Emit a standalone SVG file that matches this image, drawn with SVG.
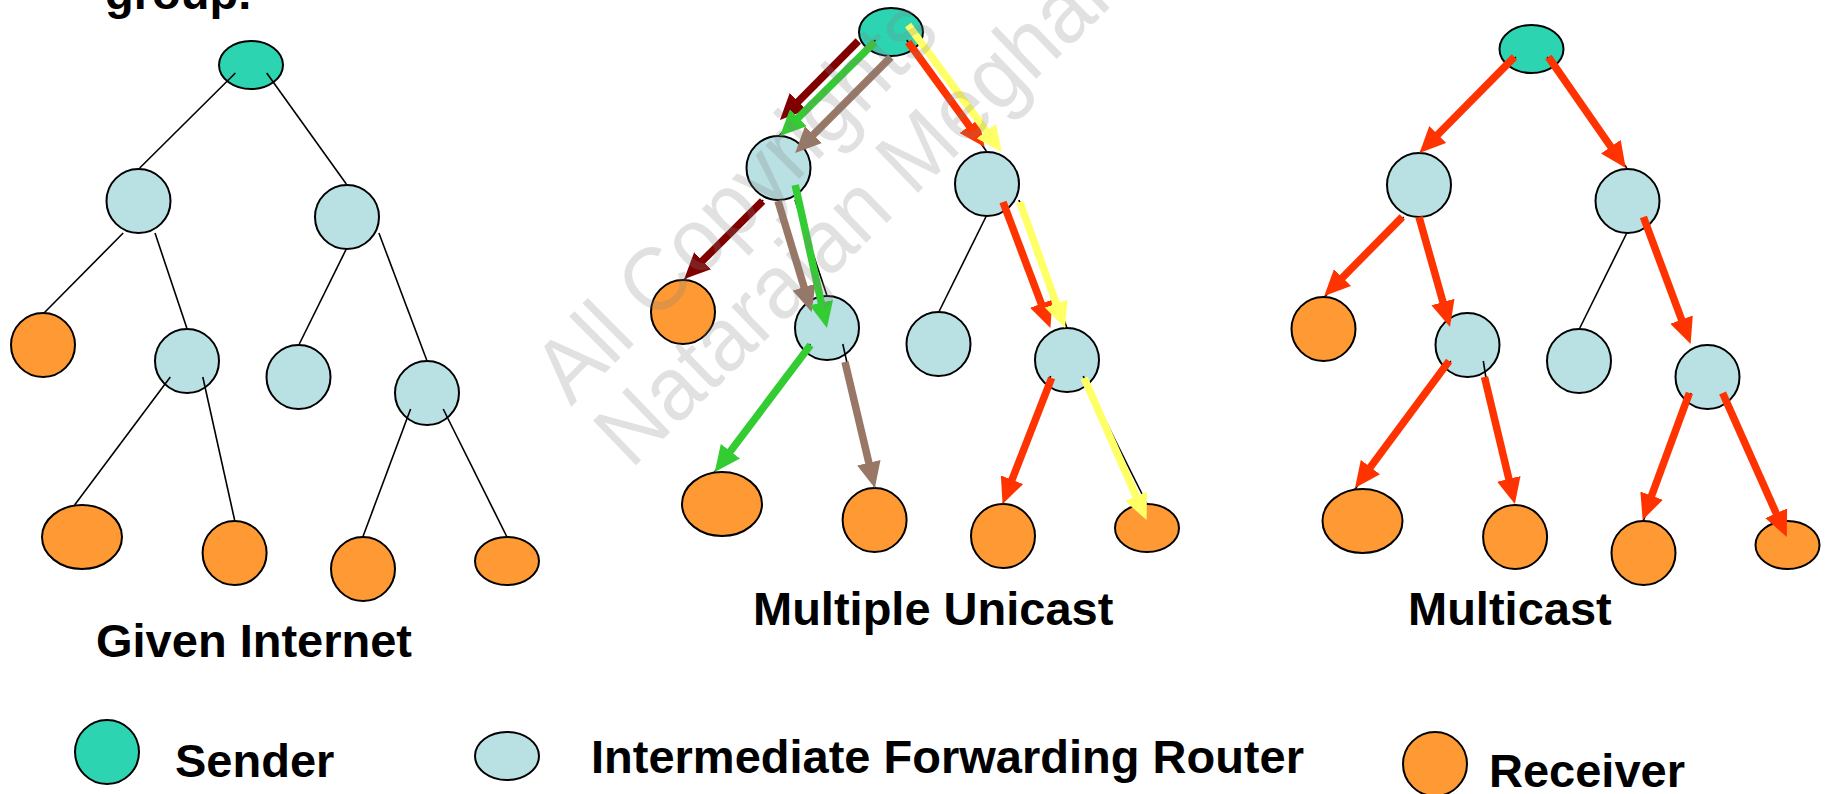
<svg xmlns="http://www.w3.org/2000/svg" width="1828" height="794" viewBox="0 0 1828 794">
<style>
.snd{fill:#2cd4b2;stroke:#000;stroke-width:2}
.rtr{fill:#b9e0e3;stroke:#000;stroke-width:2}
.rcv{fill:#ff9933;stroke:#000;stroke-width:2}
.ln{stroke:#000;stroke-width:1.6;fill:none}
.ar{stroke-width:7.5;fill:none}
.lbl{font-family:"Liberation Sans",Arial,sans-serif;font-weight:bold;font-size:47px;fill:#000}
.wm{font-family:"Liberation Sans",Arial,sans-serif;font-size:90px;fill:#808080;fill-opacity:0.24}
</style>
<defs>
<marker id="mDR" viewBox="0 0 26 24" refX="5" refY="12" markerWidth="26" markerHeight="24" markerUnits="userSpaceOnUse" orient="auto"><path d="M0,0 L26,12 L0,24 z" fill="#800000"/></marker>
<marker id="mGR" viewBox="0 0 26 24" refX="5" refY="12" markerWidth="26" markerHeight="24" markerUnits="userSpaceOnUse" orient="auto"><path d="M0,0 L26,12 L0,24 z" fill="#33cc33"/></marker>
<marker id="mBR" viewBox="0 0 26 24" refX="5" refY="12" markerWidth="26" markerHeight="24" markerUnits="userSpaceOnUse" orient="auto"><path d="M0,0 L26,12 L0,24 z" fill="#997766"/></marker>
<marker id="mRD" viewBox="0 0 26 24" refX="5" refY="12" markerWidth="26" markerHeight="24" markerUnits="userSpaceOnUse" orient="auto"><path d="M0,0 L26,12 L0,24 z" fill="#ff3300"/></marker>
<marker id="mYL" viewBox="0 0 26 24" refX="5" refY="12" markerWidth="26" markerHeight="24" markerUnits="userSpaceOnUse" orient="auto"><path d="M0,0 L26,12 L0,24 z" fill="#ffff66"/></marker>
<g id="tree-nodes">
<g id="n-S"><ellipse cx="251" cy="65" rx="32" ry="24" class="snd"/></g>
<g id="n-A"><ellipse cx="138.5" cy="201" rx="32" ry="32" class="rtr"/></g>
<g id="n-B"><ellipse cx="347" cy="217" rx="32" ry="32" class="rtr"/></g>
<g id="n-C"><ellipse cx="43" cy="345" rx="32" ry="32" class="rcv"/></g>
<g id="n-D"><ellipse cx="187" cy="361" rx="32" ry="32" class="rtr"/></g>
<g id="n-E"><ellipse cx="298.5" cy="377" rx="32" ry="32" class="rtr"/></g>
<g id="n-F"><ellipse cx="427" cy="393" rx="32" ry="32" class="rtr"/></g>
<g id="n-G"><ellipse cx="82" cy="537" rx="40" ry="32" class="rcv"/></g>
<g id="n-H"><ellipse cx="234.6" cy="553" rx="32" ry="32" class="rcv"/></g>
<g id="n-I"><ellipse cx="363" cy="569" rx="32" ry="32" class="rcv"/></g>
<g id="n-J"><ellipse cx="507" cy="561" rx="32" ry="24" class="rcv"/></g>
</g>
<g id="ln-SA"><line x1="235.4" y1="73" x2="139.7" y2="168" class="ln"/></g>
<g id="ln-SB"><line x1="266.7" y1="73" x2="346.3" y2="184" class="ln"/></g>
<g id="ln-AC"><line x1="123.2" y1="233" x2="44" y2="313" class="ln"/></g>
<g id="ln-AD"><line x1="155" y1="233" x2="186.8" y2="328" class="ln"/></g>
<g id="ln-BE"><line x1="346.3" y1="249" x2="299.3" y2="344" class="ln"/></g>
<g id="ln-BF"><line x1="378.9" y1="233" x2="426.7" y2="360" class="ln"/></g>
<g id="ln-DG"><line x1="170.3" y1="377" x2="74.6" y2="505" class="ln"/></g>
<g id="ln-DH"><line x1="202.8" y1="377" x2="234.6" y2="520" class="ln"/></g>
<g id="ln-FI"><line x1="410.6" y1="409" x2="362.8" y2="537" class="ln"/></g>
<g id="ln-FJ"><line x1="443.2" y1="409" x2="507" y2="537" class="ln"/></g>
</defs>

<g id="given-internet">
<use href="#tree-nodes"/>
<g id="given-connectors">
<use href="#ln-SA"/><use href="#ln-SB"/><use href="#ln-AC"/><use href="#ln-AD"/><use href="#ln-BE"/>
<use href="#ln-BF"/><use href="#ln-DG"/><use href="#ln-DH"/><use href="#ln-FI"/><use href="#ln-FJ"/>
</g>
<text class="lbl" x="96" y="657">Given Internet</text>
</g>

<g id="multiple-unicast">
<g transform="translate(640,-33)">
<use href="#tree-nodes"/>
<g id="unicast-connectors">
<use href="#ln-SA"/><use href="#ln-SB"/><use href="#ln-AC"/><use href="#ln-AD"/><use href="#ln-BE"/>
<use href="#ln-BF"/><use href="#ln-DG"/><use href="#ln-DH"/><use href="#ln-FI"/><use href="#ln-FJ"/>
<line x1="218.3" y1="74" x2="154.7" y2="138.1" class="ar" stroke="#800000" marker-end="url(#mDR)"/>
<line x1="234.8" y1="75" x2="154.8" y2="154.2" class="ar" stroke="#33cc33" marker-end="url(#mGR)"/>
<line x1="250.9" y1="90" x2="170.0" y2="171.1" class="ar" stroke="#997766" marker-end="url(#mBR)"/>
<line x1="268.1" y1="75" x2="332.2" y2="163.0" class="ar" stroke="#ff3300" marker-end="url(#mRD)"/>
<line x1="268.1" y1="58" x2="349.3" y2="168.1" class="ar" stroke="#ffff66" marker-end="url(#mYL)"/>
<line x1="122.6" y1="234" x2="59.1" y2="297.2" class="ar" stroke="#800000" marker-end="url(#mDR)"/>
<line x1="138" y1="234" x2="165.5" y2="324.9" class="ar" stroke="#997766" marker-end="url(#mBR)"/>
<line x1="155.2" y1="218" x2="182.4" y2="340.5" class="ar" stroke="#33cc33" marker-end="url(#mGR)"/>
<line x1="363" y1="235" x2="403.0" y2="341.3" class="ar" stroke="#ff3300" marker-end="url(#mRD)"/>
<line x1="379.8" y1="235" x2="417.9" y2="341.2" class="ar" stroke="#ffff66" marker-end="url(#mYL)"/>
<line x1="170.5" y1="378" x2="87.4" y2="488.2" class="ar" stroke="#33cc33" marker-end="url(#mGR)"/>
<line x1="205" y1="395" x2="230.0" y2="500.6" class="ar" stroke="#997766" marker-end="url(#mBR)"/>
<line x1="411.6" y1="411" x2="370.2" y2="517.4" class="ar" stroke="#ff3300" marker-end="url(#mRD)"/>
<line x1="444.1" y1="411" x2="498.1" y2="533.8" class="ar" stroke="#ffff66" marker-end="url(#mYL)"/>
</g>
</g>
<text class="lbl" x="753" y="625">Multiple Unicast</text>
</g>

<g id="multicast">
<g transform="translate(1280.5,-16)">
<use href="#tree-nodes"/>
<g id="multicast-connectors">
<use href="#ln-SA"/><use href="#ln-SB"/><use href="#ln-AC"/><use href="#ln-BE"/>
<use href="#ln-DG"/><use href="#ln-FI"/>
<line x1="202.8" y1="377" x2="205.5" y2="394" class="ln"/>
<line x1="233.9" y1="73" x2="153.8" y2="154.1" class="ar" stroke="#ff3300" marker-end="url(#mRD)"/>
<line x1="267.9" y1="73" x2="333.2" y2="166.8" class="ar" stroke="#ff3300" marker-end="url(#mRD)"/>
<line x1="121.8" y1="233" x2="58.5" y2="297.1" class="ar" stroke="#ff3300" marker-end="url(#mRD)"/>
<line x1="138.5" y1="233" x2="163.8" y2="322.8" class="ar" stroke="#ff3300" marker-end="url(#mRD)"/>
<line x1="362.9" y1="233" x2="402.8" y2="340.3" class="ar" stroke="#ff3300" marker-end="url(#mRD)"/>
<line x1="168.6" y1="377" x2="87.0" y2="487.1" class="ar" stroke="#ff3300" marker-end="url(#mRD)"/>
<line x1="204" y1="393" x2="229.5" y2="499.7" class="ar" stroke="#ff3300" marker-end="url(#mRD)"/>
<line x1="408.9" y1="409" x2="369.4" y2="516.3" class="ar" stroke="#ff3300" marker-end="url(#mRD)"/>
<line x1="442.1" y1="409" x2="497.7" y2="533.8" class="ar" stroke="#ff3300" marker-end="url(#mRD)"/>
</g>
</g>
<text class="lbl" x="1408" y="625">Multicast</text>
</g>

<g id="legend">
<g id="legend-sender"><ellipse cx="107" cy="752" rx="32" ry="32" class="snd"/><text class="lbl" x="175" y="777">Sender</text></g>
<g id="legend-router"><ellipse cx="507" cy="756" rx="32" ry="24" class="rtr"/><text class="lbl" x="591" y="773">Intermediate Forwarding Router</text></g>
<g id="legend-receiver"><ellipse cx="1435" cy="764" rx="32" ry="32" class="rcv"/><text class="lbl" x="1489" y="787">Receiver</text></g>
</g>

<text class="lbl" x="105" y="9">group.</text>

<g id="watermark">
<text class="wm" transform="translate(571,407) rotate(-45)" textLength="525" lengthAdjust="spacingAndGlyphs">All Copyrights</text>
<text class="wm" transform="translate(631,470) rotate(-44)" textLength="912" lengthAdjust="spacingAndGlyphs">Natarajan Meghanathan</text>
</g>
</svg>
